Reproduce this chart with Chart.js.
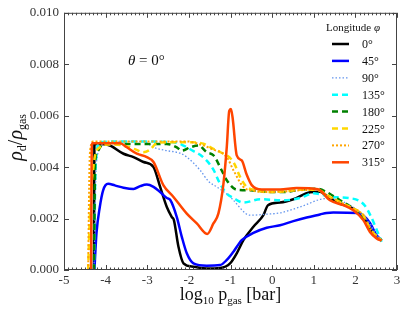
<!DOCTYPE html>
<html>
<head>
<meta charset="utf-8">
<script src="https://cdn.jsdelivr.net/npm/chart.js@4.4.0/dist/chart.umd.min.js"></script>
<style>
  html, body { margin: 0; padding: 0; background: #fff; }
</style>
</head>
<body>
<canvas id="myChart" width="407" height="317"></canvas>
<script>
// Longitude labels of the curves
const longitudes = ['0°', '45°', '90°', '135°', '180°', '225°', '270°', '315°'];
const colors = ['#000000', '#0000ff', '#6495ed', '#00ffff', '#008000', '#ffd700', '#ffa500', '#ff4500'];

// log10 p_gas [bar] and rho_d/rho_gas
const p0 = [-4.28, -4.27, -4.2, -3.9, -3.57, -3.33, -3.09, -2.85, -2.69, -2.53, -2.41, -2.36, -2.25, -2.13, -1.89, -1.57, -1.25, -1.01, -0.85, -0.69, -0.45, -0.21, -0.1, 0.19, 0.51, 0.91, 1.15, 1.31, 1.63, 1.95, 2.19, 2.35, 2.47, 2.63];
const d0 = [0, 0.00488, 0.0049, 0.00484, 0.00452, 0.00439, 0.0042, 0.0040, 0.00323, 0.00245, 0.00206, 0.00194, 0.0009, 0.00026, 0.00013, 0.00006, 0.00008, 0.00026, 0.00065, 0.00116, 0.00168, 0.00213, 0.00252, 0.00262, 0.00275, 0.00302, 0.00304, 0.00288, 0.00258, 0.00239, 0.00206, 0.00161, 0.00135, 0.00116];

const p45 = [-4.27, -4.22, -4.14, -4.06, -3.94, -3.78, -3.57, -3.33, -3.17, -3.01, -2.85, -2.69, -2.53, -2.45, -2.29, -2.17, -2.05, -1.89, -1.57, -1.25, -1.09, -0.93, -0.73, -0.45, -0.13, 0.19, 0.51, 0.83, 1.15, 1.31, 1.47, 2.04, 2.19, 2.35, 2.51, 2.63];
const d45 = [0, 0.00142, 0.00245, 0.0031, 0.00335, 0.00329, 0.0032, 0.00315, 0.00326, 0.00332, 0.00323, 0.00303, 0.0028, 0.00273, 0.00206, 0.00129, 0.00065, 0.00026, 0.00017, 0.00019, 0.00039, 0.00071, 0.00116, 0.00144, 0.00164, 0.00174, 0.0019, 0.00204, 0.00216, 0.00222, 0.00224, 0.00222, 0.00212, 0.00183, 0.00135, 0.00116];

const p90 = [-4.28, -4.22, -4.05, -3.5, -3.09, -2.85, -2.53, -2.21, -2.05, -1.73, -1.53, -1.33, -1.01, -0.93, -0.53, -0.13, 0.19, 0.67, 1.31, 1.8, 2.19, 2.35, 2.51, 2.63];
const d90 = [0, 0.0042, 0.0049, 0.005, 0.005, 0.00477, 0.00464, 0.00454, 0.00439, 0.00388, 0.00345, 0.00323, 0.00285, 0.00271, 0.00213, 0.00217, 0.00222, 0.00245, 0.00278, 0.00258, 0.00213, 0.00181, 0.00135, 0.00116];

const p135 = [-4.28, -4.24, -4.14, -3.5, -2.37, -2.13, -1.89, -1.73, -1.57, -1.41, -1.25, -1.09, -0.93, -0.69, -0.29, 0.27, 0.67, 0.99, 1.39, 1.87, 2.07, 2.23, 2.36, 2.63];
const d135 = [0, 0.004, 0.00497, 0.005, 0.00497, 0.00484, 0.00462, 0.00448, 0.00425, 0.0039, 0.00335, 0.00297, 0.0028, 0.00262, 0.00275, 0.00271, 0.0028, 0.00298, 0.00285, 0.00279, 0.00271, 0.0025, 0.00213, 0.0011];

const p180 = [-4.28, -4.25, -4.2, -4.06, -3.9, -3.0, -2.53, -2.29, -2.17, -1.97, -1.77, -1.57, -1.41, -1.21, -1.09, -0.85, -0.53, -0.13, 0.27, 0.67, 1.07, 1.31, 1.63, 1.95, 2.19, 2.35, 2.63];
const d180 = [0, 0.0042, 0.0046, 0.0049, 0.0049, 0.0049, 0.0049, 0.00477, 0.00464, 0.00477, 0.00484, 0.00458, 0.00446, 0.00387, 0.00349, 0.00312, 0.0031, 0.00304, 0.00303, 0.00312, 0.00316, 0.00303, 0.00271, 0.00239, 0.002, 0.00155, 0.00114];

const p225 = [-4.42, -4.38, -4.28, -4.14, -3.94, -3.57, -3.3, -3.1, -2.93, -2.8, -2.53, -2.0, -1.65, -1.41, -1.25, -0.93, -0.77, -0.61, -0.37, -0.13, 0.27, 0.67, 1.07, 1.39, 1.71, 1.95, 2.19, 2.35, 2.63];
const d225 = [0, 0.00206, 0.0042, 0.00477, 0.00488, 0.00484, 0.0047, 0.00458, 0.00468, 0.0049, 0.00497, 0.00497, 0.00491, 0.00471, 0.00459, 0.0042, 0.00362, 0.00323, 0.0031, 0.00303, 0.00305, 0.00312, 0.00312, 0.00284, 0.00258, 0.00239, 0.00213, 0.00161, 0.00114];

const p270 = [-4.42, -4.38, -4.3, -3.5, -2.05, -1.73, -1.41, -1.09, -0.93, -0.69, -0.45, -0.13, 0.27, 0.67, 1.07, 1.39, 1.71, 1.95, 2.19, 2.35, 2.63];
const d270 = [0, 0.0045, 0.005, 0.005, 0.005, 0.00488, 0.00468, 0.00439, 0.00388, 0.00323, 0.00308, 0.00303, 0.00305, 0.0031, 0.00312, 0.00284, 0.00258, 0.00239, 0.00213, 0.00161, 0.00114];

const p315 = [-4.35, -4.33, -3.65, -3.49, -3.25, -3.01, -2.85, -2.61, -2.37, -2.05, -1.81, -1.56, -1.41, -1.29, -1.17, -1.09, -1.03, -0.99, -0.95, -0.85, -0.73, -0.61, -0.49, -0.25, 0.19, 0.59, 1.1, 1.39, 1.71, 1.95, 2.19, 2.35, 2.51, 2.63];
const d315 = [0, 0.00493, 0.00493, 0.00477, 0.00452, 0.00439, 0.0042, 0.00329, 0.00284, 0.00219, 0.00181, 0.0014, 0.00181, 0.0022, 0.00335, 0.00477, 0.00619, 0.00626, 0.00593, 0.00446, 0.00426, 0.0037, 0.0033, 0.00313, 0.00313, 0.00319, 0.00314, 0.00271, 0.00252, 0.00232, 0.00194, 0.00148, 0.00123, 0.00114];

// Axis ticks
const xTicks = [-5, -4, -3, -2, -1, 0, 1, 2, 3];
const yTicks = [0, 0.002, 0.004, 0.006, 0.008, 0.010];

const pSeries = [p0, p45, p90, p135, p180, p225, p270, p315];
const dSeries = [d0, d45, d90, d135, d180, d225, d270, d315];
const dashes = [[], [], [1.5, 2], [6, 4], [6, 4], [6, 4], [2, 2], []];
const widths = [2.5, 2.5, 1.3, 2.5, 2.5, 2.5, 2, 2.5];

const serif = '"Liberation Serif", "DejaVu Serif", serif';

const datasets = longitudes.map((lab, i) => ({
  label: lab,
  data: pSeries[i].map((x, j) => ({x: x, y: dSeries[i][j]})),
  borderColor: colors[i],
  backgroundColor: colors[i],
  borderWidth: widths[i],
  borderDash: dashes[i],
  pointRadius: 0,
  cubicInterpolationMode: 'monotone',
  order: longitudes.length - i,
  fill: false,
}));

// draw a run of text pieces: [text, size, italic, baselineShift]
function drawRuns(ctx, runs, x, y, align) {
  let total = 0;
  runs.forEach(r => {
    ctx.font = (r[2] ? 'italic ' : '') + r[1] + 'px ' + serif;
    total += ctx.measureText(r[0]).width;
  });
  let cx = align === 'center' ? x - total / 2 : x;
  ctx.textAlign = 'left';
  ctx.textBaseline = 'alphabetic';
  runs.forEach(r => {
    ctx.font = (r[2] ? 'italic ' : '') + r[1] + 'px ' + serif;
    ctx.fillText(r[0], cx, y + r[3]);
    cx += ctx.measureText(r[0]).width;
  });
}

const decorations = {
  id: 'decorations',
  afterDatasetsDraw(chart) {
    const ctx = chart.ctx;
    const a = chart.chartArea;
    const xs = chart.scales.x, ys = chart.scales.y;
    ctx.save();
    // frame
    ctx.strokeStyle = '#444';
    ctx.lineWidth = 1;
    ctx.setLineDash([]);
    ctx.strokeRect(a.left + 0.5, a.top + 0.5, a.right - a.left - 1, a.bottom - a.top - 1);
    // x ticks, inward, with minor ticks every 0.1
    ctx.beginPath();
    for (let k = -50; k <= 30; k++) {
      const px = Math.round(xs.getPixelForValue(k / 10)) + 0.5;
      const len = k % 10 === 0 ? 5 : 2.5;
      ctx.moveTo(px, a.bottom); ctx.lineTo(px, a.bottom - len);
      ctx.moveTo(px, a.top); ctx.lineTo(px, a.top + len);
    }
    yTicks.forEach(v => {
      const py = Math.round(ys.getPixelForValue(v)) + 0.5;
      ctx.moveTo(a.left, py); ctx.lineTo(a.left + 5, py);
      ctx.moveTo(a.right, py); ctx.lineTo(a.right - 5, py);
    });
    ctx.stroke();

    ctx.fillStyle = '#111';
    // annotation
    drawRuns(ctx, [['θ', 15, true, 0], [' = 0°', 15, false, 0]], 128, 65, 'left');
    // x title
    drawRuns(ctx, [['log', 18, false, 0], ['10', 11, false, 4], [' p', 18, false, 0], ['gas', 11, false, 4], [' [bar]', 18, false, 0]], (a.left + a.right) / 2, 300, 'center');
    // y title
    ctx.save();
    ctx.translate(22, (a.top + a.bottom) / 2 - 4);
    ctx.rotate(-Math.PI / 2);
    drawRuns(ctx, [['ρ', 20, true, 0], ['d', 12, false, 4], ['/', 20, false, 0], ['ρ', 20, true, 0], ['gas', 12, false, 4]], 0, 0, 'center');
    ctx.restore();

    // legend
    drawRuns(ctx, [['Longitude ', 11, false, 0], ['φ', 11, true, 0]], 326, 31, 'left');
    chart.data.datasets.forEach((ds, i) => {
      const yy = 44 + i * 16.9;
      ctx.beginPath();
      ctx.strokeStyle = ds.borderColor;
      ctx.lineWidth = ds.borderWidth;
      ctx.setLineDash(ds.borderDash);
      ctx.moveTo(332, yy); ctx.lineTo(349, yy);
      ctx.stroke();
      ctx.setLineDash([]);
      ctx.fillStyle = '#111';
      drawRuns(ctx, [[ds.label, 12, false, 0]], 362, yy + 4, 'left');
    });
    ctx.restore();
  }
};

const config = {
  type: 'line',
  data: { datasets: datasets },
  plugins: [decorations],
  options: {
    responsive: false,
    animation: false,
    layout: { padding: { left: 0, right: 10, top: 12, bottom: 0 } },
    plugins: { legend: { display: false }, tooltip: { enabled: false } },
    scales: {
      x: {
        type: 'linear', min: -5, max: 3,
        afterBuildTicks: s => { s.ticks = xTicks.map(v => ({value: v})); },
        afterFit: s => { s.height = 47; },
        grid: { display: false, drawTicks: false },
        border: { display: false },
        ticks: { color: '#333', padding: 3, font: { family: serif, size: 13 }, callback: v => String(v) }
      },
      y: {
        type: 'linear', min: 0, max: 0.010,
        afterBuildTicks: s => { s.ticks = yTicks.map(v => ({value: v})); },
        afterFit: s => { s.width = 64; },
        grid: { display: false, drawTicks: false },
        border: { display: false },
        ticks: { color: '#333', padding: 5, font: { family: serif, size: 13 }, callback: v => v.toFixed(3) }
      }
    }
  }
};

var ctx = document.getElementById('myChart').getContext('2d');
var myChart = new Chart(ctx, config);
</script>
</body>
</html>
